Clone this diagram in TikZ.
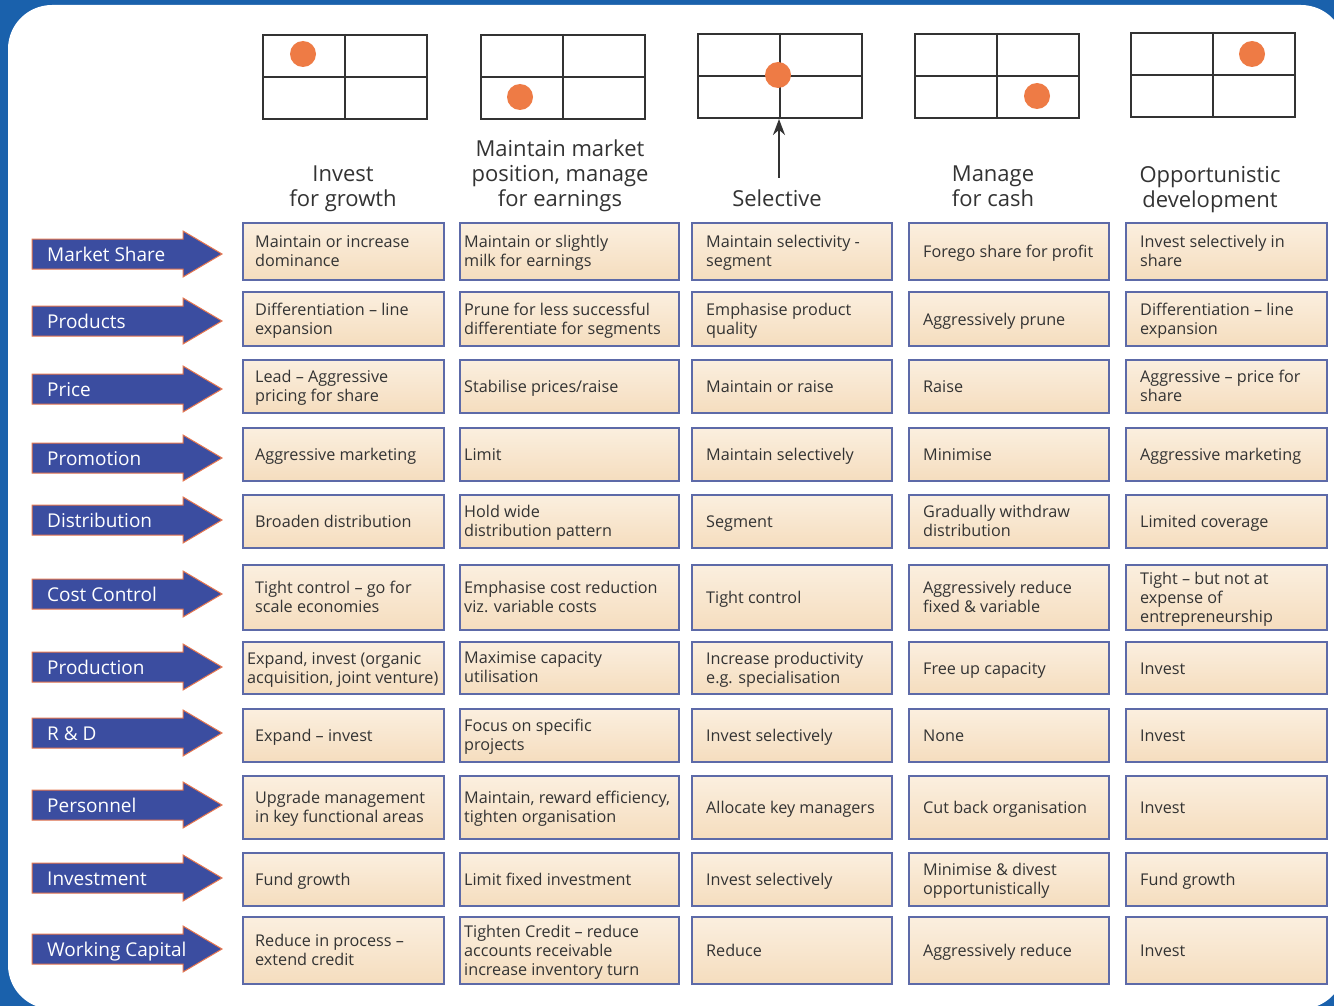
\documentclass[tikz,border=0pt]{standalone}
\usepackage{fontspec}
\setmainfont{Open Sans}
\usetikzlibrary{arrows.meta}

\definecolor{frameblue}{HTML}{1A61AC}
\definecolor{arrowblue}{HTML}{3B4DA0}
\definecolor{arroworange}{HTML}{E8774F}
\definecolor{cellline}{HTML}{5D6AA8}
\definecolor{celltop}{HTML}{FBEFDF}
\definecolor{cellbot}{HTML}{F5DDBE}
\definecolor{dotorange}{HTML}{EE7B45}
\definecolor{inkgray}{HTML}{333333}

% one table cell: name, left x, right x, top y, bottom y, text indent, text
\newcommand\onecell[7]{%
  \node[cellbox, anchor=north west, minimum width=#3-#2, minimum height=#5-#4] (c#1) at (#2,#4) {};
  \node[celltext] (t#1) at ([xshift=#6]c#1.west) {#7};}

% one full row of five cells: row, top y, bottom y, five texts
\newcommand\cellrow[8]{%
  \onecell{#1-1}{242}{443}{#2}{#3}{13}{#4}
  \onecell{#1-2}{459}{678}{#2}{#3}{5}{#5}
  \onecell{#1-3}{691}{891}{#2}{#3}{15}{#6}
  \onecell{#1-4}{908}{1108}{#2}{#3}{15}{#7}
  \onecell{#1-5}{1125}{1326}{#2}{#3}{15}{#8}}

% blue row arrow with its label: name, centre y, label
\newcommand\rowarrow[3]{%
  \path[rowarrow] (32,#2-15) -- (183,#2-15) -- (183,#2-23) -- (222,#2)
        -- (183,#2+23) -- (183,#2+15) -- (32,#2+15) -- cycle;
  \node[rowlabel] (#1) at (47,#2+7) {#3};}

% small 2x2 position grid: name, left x, top y, dot x, dot y
\newcommand\posgrid[5]{%
  \node[gridbox, anchor=north west] (g#1) at (#2,#3) {};
  \draw[gridline] (g#1.north) -- (g#1.south);
  \draw[gridline] (g#1.west) -- (g#1.east);
  \node[posdot] (d#1) at (#4,#5) {};}

% struts that keep text lines optically centred in their boxes
\newcommand\cellstrut{\rule[-4pt]{0pt}{18pt}}
\newcommand\headstrut{\rule[-6pt]{0pt}{25pt}}

\begin{document}
\begin{tikzpicture}[x=1pt,y=-1pt,
  cellbox/.style={draw=cellline, line width=1.8pt, top color=celltop, bottom color=cellbot, inner sep=0pt},
  celltext/.style={anchor=west, align=left, text=inkgray, inner sep=0pt, yshift=-1.5pt,
                   font=\fontsize{16.2}{19}\selectfont,
                   execute at begin node=\cellstrut, execute at end node=\cellstrut},
  rowarrow/.style={fill=arrowblue, draw=arroworange, line width=1pt, line join=miter},
  rowlabel/.style={anchor=base west, text=white, inner sep=0pt, font=\fontsize{19}{22}\selectfont},
  header/.style={align=center, text=inkgray, inner sep=0pt, font=\fontsize{22}{25}\selectfont,
                 execute at begin node=\headstrut, execute at end node=\headstrut},
  gridbox/.style={draw=inkgray, line width=2pt, minimum width=164pt, minimum height=84pt, inner sep=0pt},
  gridline/.style={draw=inkgray, line width=2pt},
  posdot/.style={circle, fill=dotorange, minimum size=26pt, inner sep=0pt},
]
\useasboundingbox (0,0) rectangle (1334,1006);

% frame
\fill[frameblue] (0,0) rectangle (1334,1006);
\fill[white, rounded corners=44pt] (8,5) rectangle (1345,1009);

% position grids
\posgrid{1}{262}{34}{303}{54}
\posgrid{2}{480}{34}{520}{97}
\posgrid{3}{697}{33}{778}{75}
\posgrid{4}{914}{33}{1037}{96}
\posgrid{5}{1130}{32}{1252}{54}

\coordinate (selfoot) at (779,178);
\draw[line width=2.3pt, draw=inkgray, -{Stealth[length=16pt,width=12pt]}] (selfoot) -- (g3.south -| selfoot);

% column headings
\node[header] (h1) at (343,189.5) {Invest\\for growth};
\node[header] (h2) at (560,176) {Maintain market\\position, manage\\for earnings};
\node[header] (h3) at (777,200) {Selective};
\node[header] (h4) at (993,189.5) {Manage\\for cash};
\node[header] (h5) at (1210,189.5) {Opportunistic\\development};

% row arrows
\rowarrow{a1}{254}{Market Share}
\rowarrow{a2}{321}{Products}
\rowarrow{a3}{389}{Price}
\rowarrow{a4}{458}{Promotion}
\rowarrow{a5}{520}{Distribution}
\rowarrow{a6}{594}{Cost Control}
\rowarrow{a7}{667}{Production}
\rowarrow{a8}{733}{R \& D}
\rowarrow{a9}{805}{Personnel}
\rowarrow{a10}{878}{Investment}
\rowarrow{a11}{949}{Working Capital}

% table cells
\cellrow{1}{222}{279}
  {Maintain or increase\\dominance}
  {Maintain or slightly\\milk for earnings}
  {Maintain selectivity -\\segment}
  {Forego share for profit}
  {Invest selectively in\\share}
\cellrow{2}{291}{345}
  {Differentiation – line\\expansion}
  {Prune for less successful\\differentiate for segments}
  {Emphasise product\\quality}
  {Aggressively prune}
  {Differentiation – line\\expansion}
\cellrow{3}{359}{412}
  {Lead – Aggressive\\pricing for share}
  {Stabilise prices/raise}
  {Maintain or raise}
  {Raise}
  {Aggressive – price for\\share}
\cellrow{4}{427}{480}
  {Aggressive marketing}
  {Limit}
  {Maintain selectively}
  {Minimise}
  {Aggressive marketing}
\cellrow{5}{494}{547}
  {Broaden distribution}
  {Hold wide\\distribution pattern}
  {Segment}
  {Gradually withdraw\\distribution}
  {Limited coverage}
\cellrow{6}{564}{629}
  {Tight control – go for\\scale economies}
  {Emphasise cost reduction\\viz. variable costs}
  {Tight control}
  {Aggressively reduce\\fixed \& variable}
  {Tight – but not at\\expense of\\entrepreneurship}
% production row: first cell text sits closer to the border
\onecell{7-1}{242}{443}{641}{693}{5}{Expand, invest (organic\\acquisition, joint venture)}
\onecell{7-2}{459}{678}{641}{693}{5}{Maximise capacity\\utilisation}
\onecell{7-3}{691}{891}{641}{693}{15}{Increase productivity\\e.g. specialisation}
\onecell{7-4}{908}{1108}{641}{693}{15}{Free up capacity}
\onecell{7-5}{1125}{1326}{641}{693}{15}{Invest}
\cellrow{8}{708}{761}
  {Expand – invest}
  {Focus on specific\\projects}
  {Invest selectively}
  {None}
  {Invest}
\cellrow{9}{775}{838}
  {Upgrade management\\in key functional areas}
  {Maintain, reward efficiency,\\tighten organisation}
  {Allocate key managers}
  {Cut back organisation}
  {Invest}
\cellrow{10}{852}{905}
  {Fund growth}
  {Limit fixed investment}
  {Invest selectively}
  {Minimise \& divest\\opportunistically}
  {Fund growth}
\cellrow{11}{916}{983}
  {Reduce in process –\\extend credit}
  {Tighten Credit – reduce\\accounts receivable\\increase inventory turn}
  {Reduce}
  {Aggressively reduce}
  {Invest}
\end{tikzpicture}
\end{document}
